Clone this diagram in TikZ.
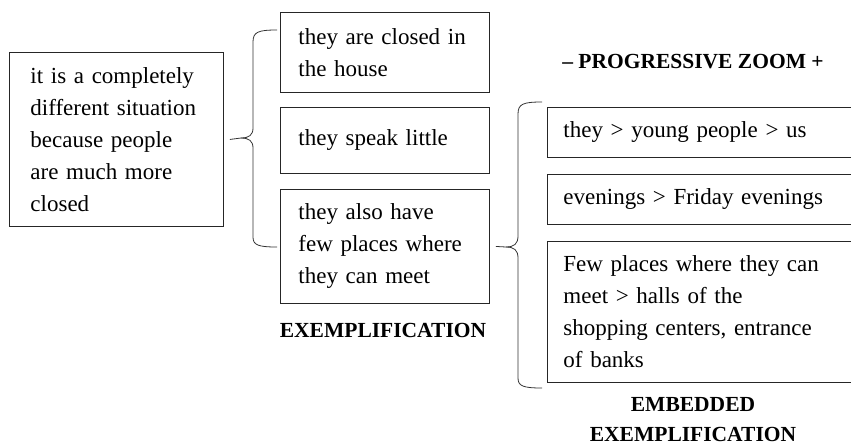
\documentclass[tikz,border=0pt]{standalone}
\usepackage{fontspec}
\setmainfont{Liberation Serif}
\begin{document}
\begin{tikzpicture}[x=1pt,y=-1pt,
  txtbox/.style={draw=black!85, line width=0.9pt, anchor=north west, align=left,
    inner ysep=0pt, font=\fontsize{23}{32}\selectfont},
  caption/.style={font=\fontsize{21.5}{30}\selectfont\bfseries, align=center, inner sep=0pt},
  bracestroke/.style={draw=black!80, line width=0.8pt}]
\useasboundingbox (0,0) rectangle (851,445);
\clip (0,0) rectangle (851,445);

% main statement
\node[txtbox, inner xsep=21pt, text width=172pt, minimum height=174pt] (main) at (9,52)
  {it is a completely\\different situation\\because people\\are much more\\closed};

% first-level examples
\node[txtbox, inner xsep=18pt, text width=173pt, minimum height=80pt] (ex1) at (280,12)
  {they are closed in\\the house};
\node[txtbox, inner xsep=18pt, text width=173pt, minimum height=66pt] (ex2) at (280,107)
  {they speak little};
\node[txtbox, inner xsep=18pt, text width=173pt, minimum height=114pt] (ex3) at (280,189)
  {they also have\\few places where\\they can meet};

% embedded examples (running off the right edge)
\node[txtbox, inner xsep=16pt, text width=280pt, minimum height=50pt] (em1) at (547,107)
  {they > young people > us};
\node[txtbox, inner xsep=16pt, text width=280pt, minimum height=50pt] (em2) at (547,174)
  {evenings > Friday evenings};
\node[txtbox, inner xsep=16pt, text width=280pt, minimum height=141pt] (em3) at (547,241)
  {Few places where they can\\meet > halls of the\\shopping centers, entrance\\of banks};

% captions
\node[caption] (zoom) at (693,62) {– PROGRESSIVE ZOOM +};
\node[caption] (cap1) at (383,330) {EXEMPLIFICATION};
\node[caption] (cap2) at (693,420) {EMBEDDED\\EXEMPLIFICATION};

% brace from the main statement to the examples
\coordinate (b1tip) at ([xshift=6pt]main.east);
\coordinate (b1top) at ([xshift=-3pt]ex1.west |- 0,30);
\coordinate (b1bot) at ([xshift=-3pt]ex3.west |- 0,247);
\draw[bracestroke] (b1top) .. controls (258,30) and (253,32) .. (253,42)
  -- (253,128) .. controls (253,135) and (249,138) .. (241,138) -- (b1tip);
\draw[bracestroke] (241,138) .. controls (249,138) and (253,141) .. (253,148)
  -- (253,237) .. controls (253,245) and (258,247) .. (b1bot);

% brace from the third example to the embedded examples
\coordinate (b2tip) at ([xshift=6pt]ex3.east);
\coordinate (b2top) at ([xshift=-5pt]em1.west |- 0,102);
\coordinate (b2bot) at ([xshift=-5pt]em3.west |- 0,388);
\draw[bracestroke] (b2top) .. controls (523,102) and (518,104) .. (518,114)
  -- (518,236) .. controls (518,244) and (514,247) .. (506,247) -- (b2tip);
\draw[bracestroke] (506,247) .. controls (514,247) and (518,250) .. (518,258)
  -- (518,378) .. controls (518,386) and (523,388) .. (b2bot);
\end{tikzpicture}
\end{document}
